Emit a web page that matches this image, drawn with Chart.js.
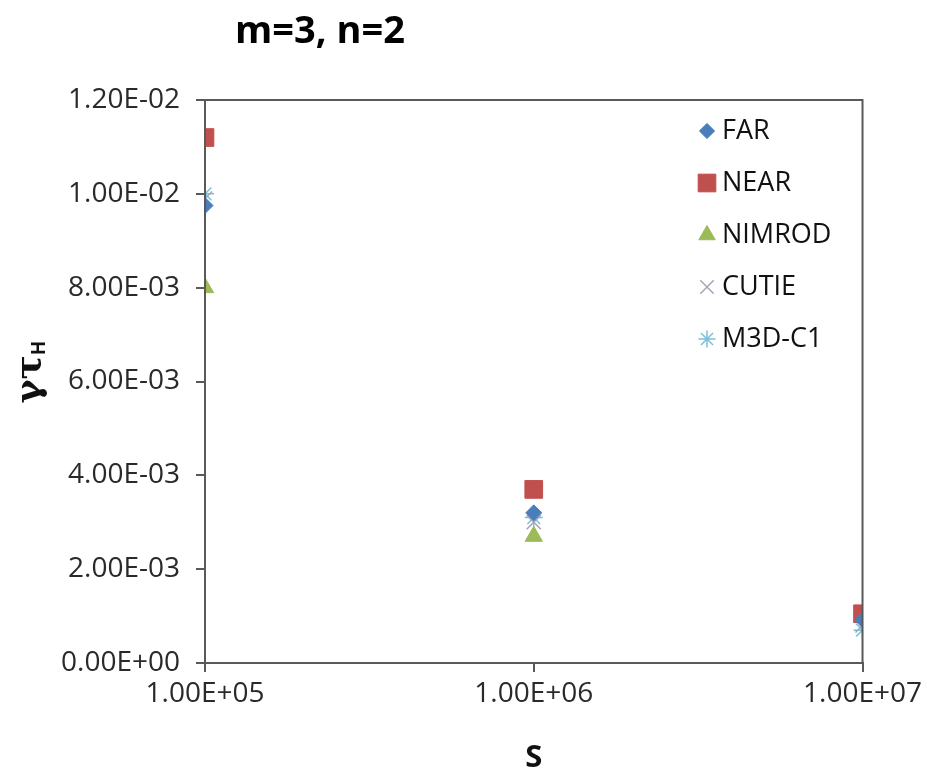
<!DOCTYPE html>
<html>
<head>
<meta charset="utf-8">
<script src="https://cdn.jsdelivr.net/npm/chart.js@4"></script>
<style>
  html, body { margin: 0; padding: 0; background: #fff; }
  #wrap { width: 927px; height: 774px; }
</style>
</head>
<body>
<div id="wrap"><canvas id="chart" width="927" height="774"></canvas></div>
<script>
// S values (x axis, log scale)
const sValues = [1e5, 1e6, 1e7];
const seriesNames = ['FAR', 'NEAR', 'NIMROD', 'CUTIE', 'M3D-C1'];

// growth rate values
const farValues = [0.00975, 0.0032, 0.00092];
const nearValues = [0.0112, 0.0037, 0.00105];
const nimrodValues = [0.0080, 0.0027, 0.0010];
const cutieValues = [0.0099, 0.0030, 0.0008];
const m3dValues = [0.0100, 0.0031, 0.0007];

const xTicks = [1e5, 1e6, 1e7];
const yTicks = [0, 0.002, 0.004, 0.006, 0.008, 0.01, 0.012];

const axisColor = '#595959';
const textColor = '#2a2a2a';
const font = 'Open Sans';

// 1.20E-02 style labels
function sci(v) {
  if (v === 0) return '0.00E+00';
  const parts = v.toExponential(2).split('e');
  const e = parseInt(parts[1], 10);
  return parts[0] + 'E' + (e < 0 ? '-' : '+') + String(Math.abs(e)).padStart(2, '0');
}

function points(values) {
  return sValues.map((s, i) => ({ x: s, y: values[i] }));
}

const styles = [
  { pointStyle: 'rectRot', radius: 8, color: '#4a7ebb', borderWidth: 1 },
  { pointStyle: 'rect', radius: 12.5, color: '#c0504d', borderWidth: 1 },
  { pointStyle: 'triangle', radius: 10, color: '#9bbb59', borderWidth: 1 },
  { pointStyle: 'crossRot', radius: 10, color: '#a5a5b5', borderWidth: 1.5 },
  { pointStyle: 'star', radius: 9, color: '#78c2da', borderWidth: 1.5 },
];

const allValues = [farValues, nearValues, nimrodValues, cutieValues, m3dValues];

const datasets = allValues.map((vals, i) => ({
  label: seriesNames[i],
  data: points(vals),
  showLine: false,
  pointStyle: styles[i].pointStyle,
  pointRadius: styles[i].radius,
  pointHoverRadius: styles[i].radius,
  pointBackgroundColor: styles[i].color,
  pointBorderColor: styles[i].color,
  pointBorderWidth: styles[i].borderWidth,
}));

// title, frame, legend and y title
const decorPlugin = {
  id: 'decor',
  afterDraw(chart) {
    const ctx = chart.ctx;
    const a = chart.chartArea;
    ctx.save();
    // frame round the plot
    ctx.strokeStyle = axisColor;
    ctx.lineWidth = 2;
    ctx.strokeRect(a.left, a.top, a.right - a.left, a.bottom - a.top);

    // title
    ctx.fillStyle = '#000';
    ctx.font = 'bold 38px "' + font + '"';
    ctx.textAlign = 'center';
    ctx.textBaseline = 'middle';
    ctx.fillText('m=3, n=2', 320, 32);

    // legend inside the plot
    ctx.font = '27px "' + font + '"';
    ctx.textAlign = 'left';
    seriesNames.forEach((name, i) => {
      const y = 131 + i * 52;
      const st = styles[i];
      ctx.fillStyle = st.color;
      ctx.strokeStyle = st.color;
      ctx.lineWidth = st.borderWidth;
      Chart.helpers.drawPoint(ctx, {
        pointStyle: st.pointStyle,
        radius: st.pointStyle === 'rect' ? 12.5 : st.radius * 0.95,
        rotation: 0,
        borderWidth: st.borderWidth,
      }, 707, y);
      ctx.fillStyle = '#111';
      ctx.fillText(name, 722, y);
    });

    // y axis title: gamma tau_H
    ctx.translate(31, 372);
    ctx.rotate(-Math.PI / 2);
    ctx.fillStyle = '#111';
    ctx.textAlign = 'left';
    ctx.textBaseline = 'middle';
    const mainFont = 'bold 36px "DejaVu Serif"';
    const subFont = 'bold 19px "' + font + '"';
    const main = '\u03b3\u03c4';
    ctx.font = mainFont;
    const w = ctx.measureText(main).width;
    ctx.font = subFont;
    const wh = ctx.measureText('H').width;
    const start = -(w + wh) / 2;
    ctx.font = mainFont;
    ctx.fillText(main, start, 0);
    ctx.font = subFont;
    ctx.fillText('H', start + w, 9);
    ctx.restore();
  }
};

new Chart(document.getElementById('chart').getContext('2d'), {
  type: 'scatter',
  data: { datasets: datasets },
  options: {
    responsive: false,
    animation: false,
    layout: { padding: { top: 100, right: 62, bottom: 0, left: 0 } },
    plugins: {
      legend: { display: false },
      tooltip: { enabled: false },
      title: { display: false },
    },
    scales: {
      x: {
        type: 'logarithmic',
        min: 1e5,
        max: 1e7,
        afterBuildTicks(scale) {
          scale.ticks = xTicks.map(v => ({ value: v }));
        },
        afterFit(scale) { scale.height = 111; },
        border: { color: axisColor, width: 2 },
        grid: { drawOnChartArea: false, color: axisColor, lineWidth: 2, tickLength: 9 },
        ticks: {
          color: textColor,
          padding: 5,
          maxRotation: 0,
          font: { family: font, size: 28 },
          callback: v => sci(v),
        },
        title: {
          display: true,
          text: 'S',
          color: '#111',
          padding: { top: 0, bottom: 0 },
          font: { family: font, size: 31, weight: 'bold', lineHeight: 1.0 },
        },
      },
      y: {
        min: 0,
        max: 0.012,
        afterBuildTicks(scale) {
          scale.ticks = yTicks.map(v => ({ value: v }));
        },
        afterFit(scale) { scale.width = 205; },
        border: { color: axisColor, width: 2 },
        grid: { drawOnChartArea: false, color: axisColor, lineWidth: 2, tickLength: 9 },
        ticks: {
          color: textColor,
          padding: 16,
          font: { family: font, size: 28 },
          callback: v => sci(v),
        },
      },
    },
  },
  plugins: [decorPlugin],
});
</script>
</body>
</html>
